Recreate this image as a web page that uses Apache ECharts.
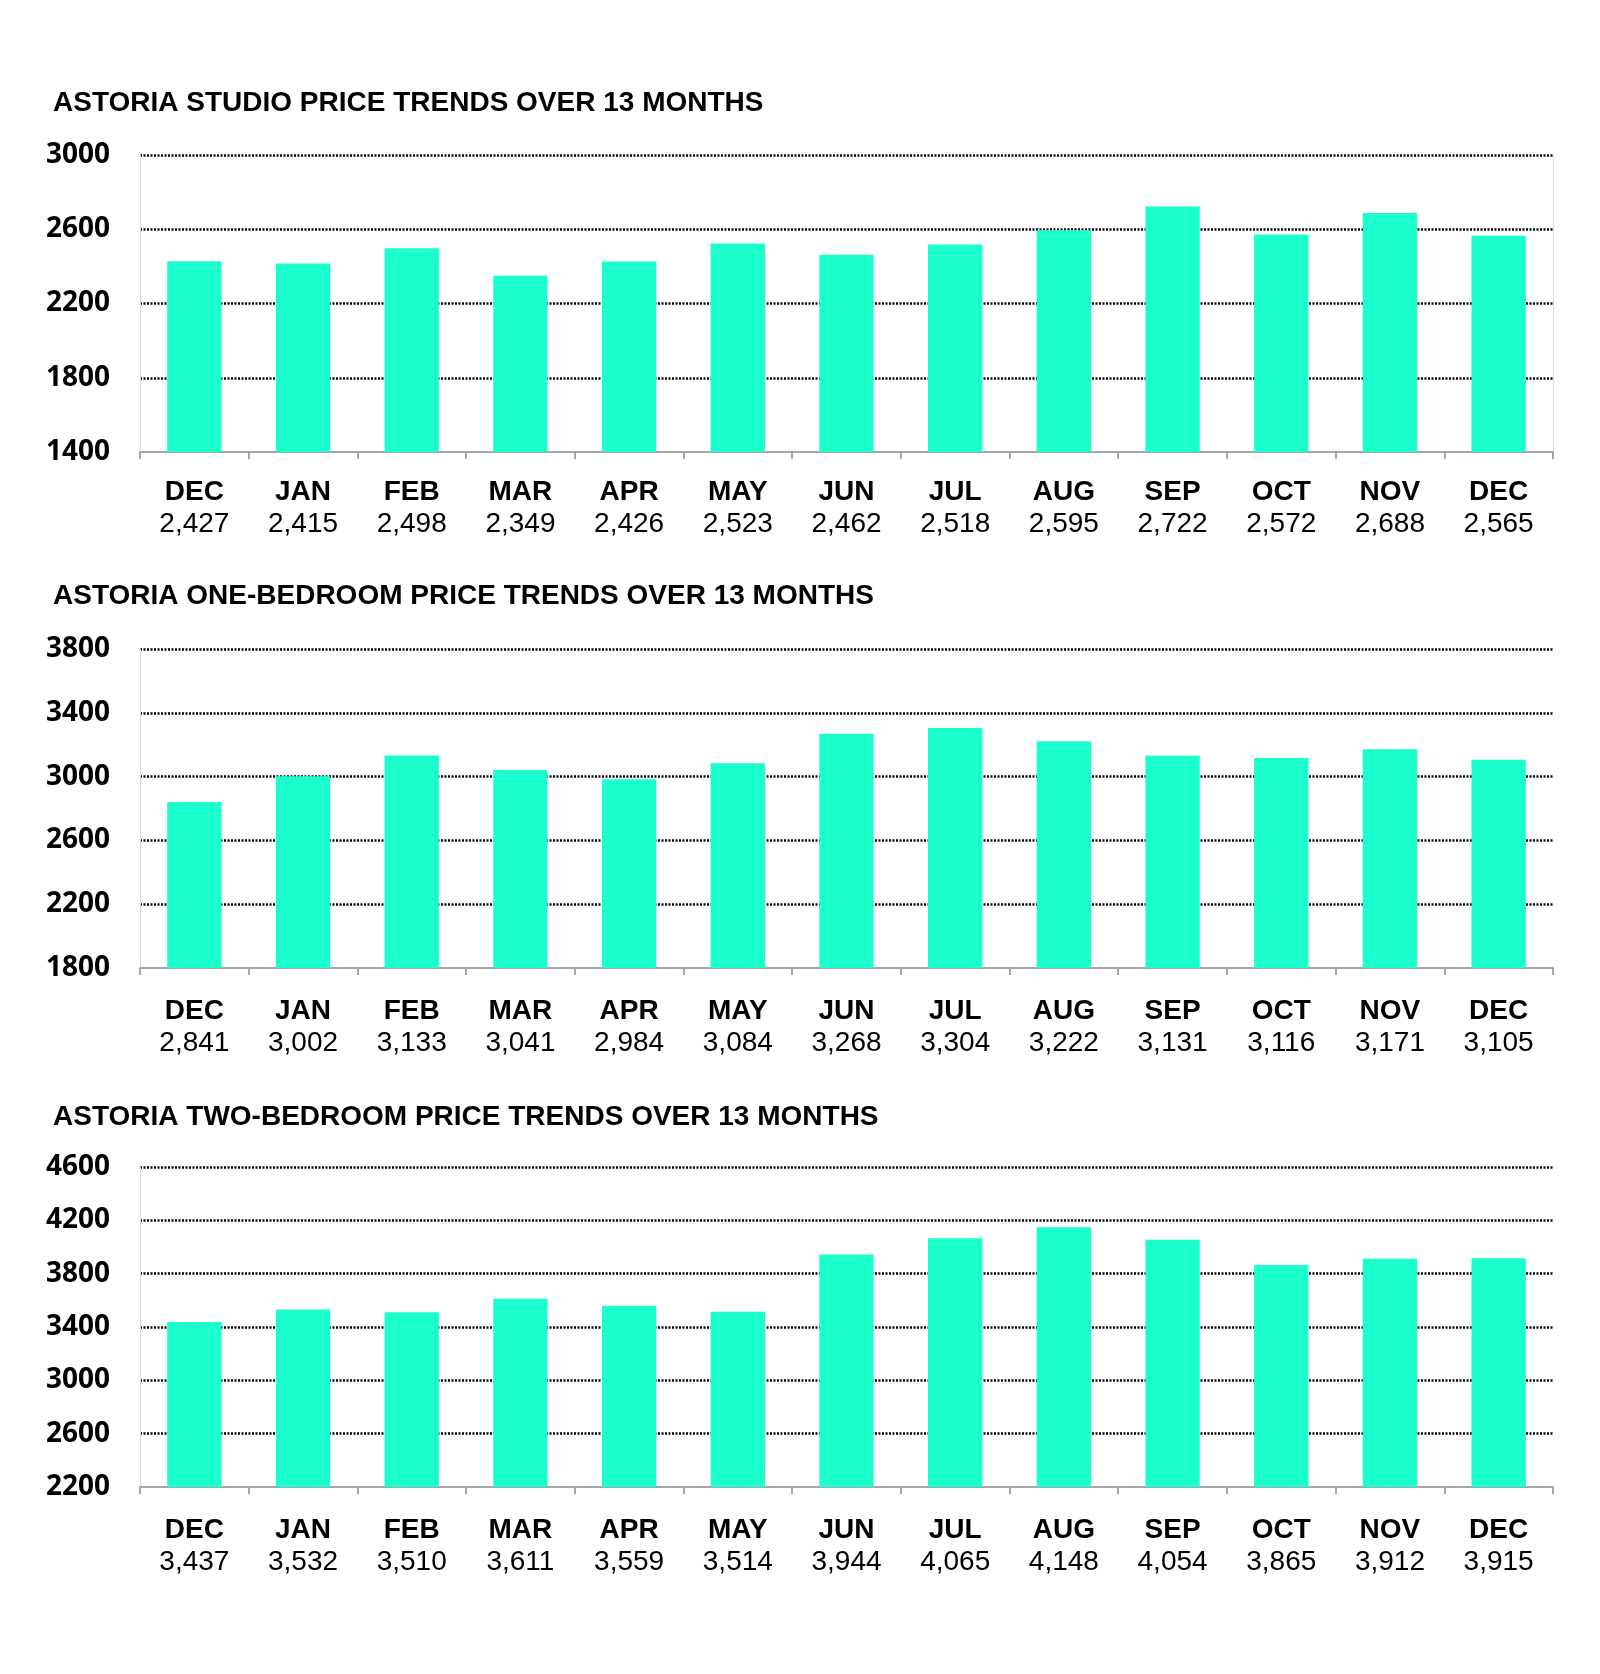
<!DOCTYPE html>
<html>
<head>
<meta charset="utf-8">
<script src="https://cdn.jsdelivr.net/npm/echarts@6/dist/echarts.min.js"></script>
<style>
html,body{margin:0;padding:0;background:#fff;}
#c{width:1600px;height:1674px;}
</style>
</head>
<body>
<div id="c"></div>
<script>
const months = ['DEC','JAN','FEB','MAR','APR','MAY','JUN','JUL','AUG','SEP','OCT','NOV','DEC'];
const studio = [2427,2415,2498,2349,2426,2523,2462,2518,2595,2722,2572,2688,2565];
const oneBed = [2841,3002,3133,3041,2984,3084,3268,3304,3222,3131,3116,3171,3105];
const twoBed = [3437,3532,3510,3611,3559,3514,3944,4065,4148,4054,3865,3912,3915];
const titles = [
  'ASTORIA STUDIO PRICE TRENDS OVER 13 MONTHS',
  'ASTORIA ONE-BEDROOM PRICE TRENDS OVER 13 MONTHS',
  'ASTORIA TWO-BEDROOM PRICE TRENDS OVER 13 MONTHS'
];
const yMin = [1400, 1800, 2200];
const yMax = [3000, 3800, 4600];
const yStep = 400;

const series3 = [studio, oneBed, twoBed];
const gridTops = [155, 649, 1167];
const gridHeights = [297, 319, 320];
const titleTops = [89, 582, 1103];
const labelMargins = [24, 27, 27];
const barColor = '#1affcc';
const fmt = v => v.toLocaleString('en-US');

const option = {
  animation: false,
  backgroundColor: '#fff',
  title: titles.map((t, i) => ({
    text: t, left: 53, top: titleTops[i], padding: 0,
    textStyle: {fontFamily: 'Liberation Sans, Arial', fontWeight: 'bold', fontSize: 28, color: '#000'}
  })),
  grid: gridTops.map((t, i) => ({left: 140, right: 47, top: t, height: gridHeights[i], containLabel: false})),
  xAxis: series3.map((vals, i) => ({
    type: 'category', gridIndex: i, data: months, boundaryGap: true,
    axisLine: {show: true, lineStyle: {color: '#a6a6a6', width: 2}},
    axisTick: {show: true, length: 7, lineStyle: {color: '#a6a6a6', width: 2}},
    axisLabel: {
      interval: 0, margin: labelMargins[i],
      formatter: (v, idx) => '{m|' + v + '}\n{v|' + fmt(vals[idx]) + '}',
      rich: {
        m: {fontFamily: 'Liberation Sans, Arial', fontWeight: 'bold', fontSize: 28, color: '#000', lineHeight: 32},
        v: {fontFamily: 'Liberation Sans, Arial', fontWeight: 'normal', fontSize: 28, color: '#000', lineHeight: 32}
      }
    },
    splitLine: {show: false}
  })),
  yAxis: [
    ...series3.map((vals, i) => ({
      type: 'value', gridIndex: i, min: yMin[i], max: yMax[i], interval: yStep,
      axisLine: {show: true, lineStyle: {color: '#d9d9d9', width: 1}},
      axisTick: {show: false},
      axisLabel: {margin: 30, formatter: v => String(v), fontFamily: 'Open Sans', fontWeight: 'bold', fontSize: 28, color: '#000', padding: [2, 0, 0, 0]},
      splitLine: {show: true, showMinLine: false, lineStyle: {color: '#000', width: 2.5, type: [2, 1.5]}}
    })),
    {
      type: 'value', gridIndex: 0, position: 'right', min: yMin[0], max: yMax[0], interval: yStep,
      axisLine: {show: true, lineStyle: {color: '#d9d9d9', width: 1}},
      axisTick: {show: false}, axisLabel: {show: false}, splitLine: {show: false}
    }
  ],
  series: series3.map((vals, i) => ({
    type: 'bar', xAxisIndex: i, yAxisIndex: i, data: vals, barWidth: '50%',
    itemStyle: {color: barColor}
  }))
};
const chart = echarts.init(document.getElementById('c'), null, {renderer: 'canvas'});
chart.setOption(option);
</script>
</body>
</html>
